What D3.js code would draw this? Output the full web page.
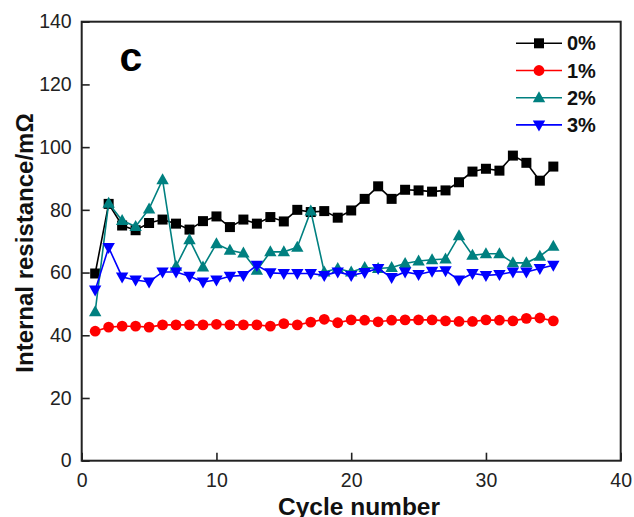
<!doctype html>
<html>
<head>
<meta charset="utf-8">
<title>Internal resistance vs cycle number</title>
<style>
  body { margin: 0; background: #fff; }
  text { font-family: Arial, "Liberation Sans", sans-serif; }
</style>
</head>
<body>
<svg width="634" height="517"></svg>
<script src="https://d3js.org/d3.v7.min.js"></script>
<script>
// cycle numbers 1..35
var cycles = [1,2,3,4,5,6,7,8,9,10,11,12,13,14,15,16,17,18,19,20,21,22,23,24,25,26,27,28,29,30,31,32,33,34,35];

var r0 = [59.7,81.9,75.0,73.5,75.8,76.9,75.6,73.7,76.4,77.9,74.5,76.9,75.6,77.7,76.3,80.0,79.3,79.6,77.5,79.8,83.5,87.5,83.5,86.4,86.2,85.8,86.2,88.8,92.2,93.1,92.5,97.3,95.0,89.3,93.8];
var r1 = [41.3,42.6,42.9,42.9,42.6,43.3,43.3,43.3,43.3,43.5,43.3,43.3,43.3,42.9,43.7,43.3,44.2,45.1,44.0,44.9,44.8,44.3,44.8,44.9,44.9,44.9,44.6,44.4,44.4,44.9,44.8,44.6,45.4,45.5,44.6];
var r2 = [47.5,82.1,76.6,74.7,80.3,89.6,62.0,70.5,61.8,69.2,67.1,66.2,60.7,66.6,66.6,68.1,79.6,60.2,61.3,60.2,61.6,61.3,61.6,62.9,63.7,64.1,64.3,71.7,65.5,66.0,66.0,63.1,63.1,65.2,68.4];
var r3 = [54.4,68.0,58.6,57.6,57.0,60.2,60.2,58.8,57.0,57.6,58.8,59.1,62.3,59.9,59.7,59.7,59.7,59.1,60.2,59.1,60.0,61.3,58.4,60.2,59.4,60.4,60.6,57.6,59.7,59.1,59.4,60.2,60.2,61.3,62.3];

var seriesNames = ["0%", "1%", "2%", "3%"];
var xTicks = [0, 10, 20, 30, 40];
var yTicks = [0, 20, 40, 60, 80, 100, 120, 140];

var svg = d3.select("svg");
var pLeft = 81.7, pRight = 620.7, pTop = 21.7, pBottom = 460.7;

var x = d3.scaleLinear().domain([0, 40]).range([pLeft, pRight]);
var y = d3.scaleLinear().domain([0, 140]).range([pBottom, pTop]);

var series = [
  { name: seriesNames[0], values: r0, color: "#000000", shape: "square" },
  { name: seriesNames[1], values: r1, color: "#ff0000", shape: "circle" },
  { name: seriesNames[2], values: r2, color: "#008080", shape: "up" },
  { name: seriesNames[3], values: r3, color: "#0000ff", shape: "down" }
];

// marker drawing
function marker(g, shape, color) {
  if (shape === "square") {
    g.append("rect").attr("x", -5).attr("y", -5).attr("width", 10).attr("height", 10).attr("fill", color);
  } else if (shape === "circle") {
    g.append("circle").attr("r", 5.4).attr("fill", color);
  } else if (shape === "up") {
    g.append("path").attr("d", "M0,-6.5L6.2,4.5L-6.2,4.5Z").attr("fill", color);
  } else {
    g.append("path").attr("d", "M0,6.5L6.2,-4.5L-6.2,-4.5Z").attr("fill", color);
  }
}

// axes
var xAxis = d3.axisBottom(x).tickValues(xTicks).tickSizeInner(-8).tickSizeOuter(0).tickPadding(12.6);
var yAxis = d3.axisLeft(y).tickValues(yTicks).tickSizeInner(-8).tickSizeOuter(0).tickPadding(10);

var gx = svg.append("g").attr("transform", "translate(0," + pBottom + ")").call(xAxis);
var gy = svg.append("g").attr("transform", "translate(" + pLeft + ",0)").call(yAxis);
[gx, gy].forEach(function(g) {
  g.select(".domain").remove();
  g.selectAll(".tick line").attr("stroke", "#222").attr("stroke-width", 1.6);
  g.selectAll(".tick text").attr("fill", "#222").style("font-size", "19.5px")
    .style("font-family", "Arial, 'Liberation Sans', sans-serif");
});

// frame
svg.append("rect")
  .attr("x", pLeft).attr("y", pTop)
  .attr("width", pRight - pLeft).attr("height", pBottom - pTop)
  .attr("fill", "none").attr("stroke", "#222").attr("stroke-width", 2);

var line = d3.line()
  .x(function(d, i) { return x(cycles[i]); })
  .y(function(d) { return y(d); });

series.forEach(function(s) {
  svg.append("path")
    .datum(s.values)
    .attr("d", line)
    .attr("fill", "none")
    .attr("stroke", s.color)
    .attr("stroke-width", 1.6);
  svg.selectAll(null)
    .data(s.values)
    .enter()
    .append("g")
    .attr("transform", function(d, i) { return "translate(" + x(cycles[i]) + "," + y(d) + ")"; })
    .each(function() { marker(d3.select(this), s.shape, s.color); });
});

// legend
var legend = svg.append("g");
series.forEach(function(s, i) {
  var ly = 43.3 + i * 27.2;
  var lg = legend.append("g").attr("transform", "translate(0," + ly + ")");
  lg.append("line").attr("x1", 516).attr("x2", 562).attr("y1", 0).attr("y2", 0)
    .attr("stroke", s.color).attr("stroke-width", 1.6);
  marker(lg.append("g").attr("transform", "translate(539,0)"), s.shape, s.color);
  lg.append("text").attr("x", 567).attr("y", 7)
    .style("font-size", "20px").style("font-weight", "bold").attr("fill", "#111")
    .text(s.name);
});

// panel label
svg.append("text").attr("x", 131).attr("y", 71).attr("text-anchor", "middle")
  .style("font-size", "41px").style("font-weight", "bold").text("c");

// axis titles
svg.append("text").attr("x", 359).attr("y", 515).attr("text-anchor", "middle")
  .style("font-size", "24.5px").style("font-weight", "bold").attr("fill", "#111").text("Cycle number");

svg.append("text")
  .attr("transform", "translate(33," + 243 + ") rotate(-90)")
  .attr("text-anchor", "middle")
  .style("font-size", "24px").style("font-weight", "bold").attr("fill", "#111")
  .text("Internal resistance/mΩ");
</script>
</body>
</html>
